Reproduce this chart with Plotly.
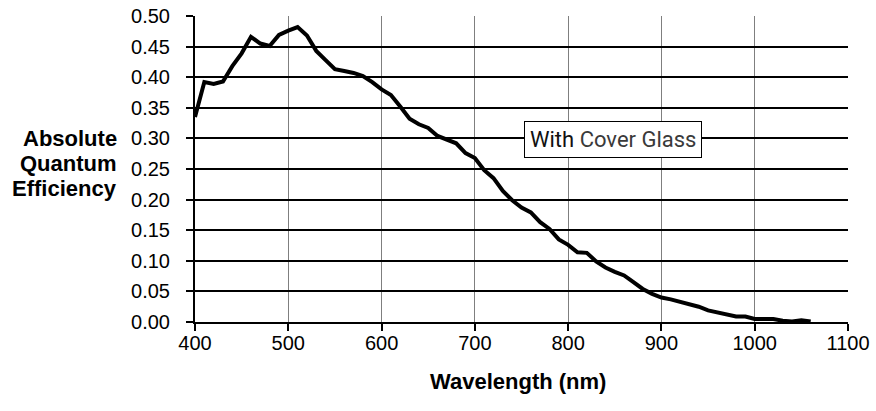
import plotly.graph_objects as go

wavelength_nm = [400, 410, 420, 430, 440, 450, 460, 470, 480, 490,
                 500, 510, 520, 530, 540, 550, 560, 570, 580, 590,
                 600, 610, 620, 630, 640, 650, 660, 670, 680, 690,
                 700, 710, 720, 730, 740, 750, 760, 770, 780, 790,
                 800, 810, 820, 830, 840, 850, 860, 870, 880, 890,
                 900, 910, 920, 930, 940, 950, 960, 970, 980, 990,
                 1000, 1010, 1020, 1030, 1040, 1050, 1060]
quantum_eff = [0.335, 0.392, 0.389, 0.393, 0.418, 0.439, 0.466, 0.455, 0.451, 0.469,
               0.476, 0.482, 0.468, 0.443, 0.428, 0.413, 0.410, 0.407, 0.402, 0.392,
               0.380, 0.371, 0.352, 0.332, 0.323, 0.317, 0.304, 0.298, 0.292, 0.276,
               0.268, 0.248, 0.235, 0.214, 0.199, 0.187, 0.179, 0.163, 0.152, 0.135,
               0.126, 0.114, 0.113, 0.099, 0.089, 0.082, 0.076, 0.065, 0.054, 0.046,
               0.040, 0.037, 0.033, 0.030, 0.025, 0.019, 0.016, 0.013, 0.009, 0.009,
               0.005, 0.005, 0.005, 0.002, 0.001, 0.003, 0.001]

x_ticks = [400, 500, 600, 700, 800, 900, 1000, 1100]
y_ticks = [0.00, 0.05, 0.10, 0.15, 0.20, 0.25, 0.30, 0.35, 0.40, 0.45, 0.50]
y_title_lines = ["Absolute", "Quantum", "Efficiency"]

font_family = "Liberation Sans, Arial, sans-serif"

fig = go.Figure()
fig.add_trace(go.Scatter(
    x=wavelength_nm, y=quantum_eff, mode="lines",
    line=dict(color="black", width=4),
    showlegend=False, hoverinfo="x+y",
))

annotations = []
# y-axis title, three tightly spaced right-aligned lines
for i, word in enumerate(y_title_lines):
    annotations.append(dict(
        xref="paper", yref="paper", x=-0.117, y=0.601 - i * 0.083,
        xanchor="right", yanchor="middle",
        text="<b>%s</b>" % word, showarrow=False,
        font=dict(size=22, color="black"),
    ))
annotations.append(dict(
    xref="paper", yref="paper", x=0.495, y=-0.196,
    xanchor="center", yanchor="middle",
    text="<b>Wavelength (nm)</b>", showarrow=False,
    font=dict(size=22, color="black"),
))
annotations.append(dict(
    xref="x", yref="y", x=848, y=0.298,
    xanchor="center", yanchor="middle",
    text="<span style='color:#111'>With</span> <span style='color:#3a3a3a'>Cover Glass</span>",
    showarrow=False,
    font=dict(family="Roboto, sans-serif", size=22),
    bgcolor="white", bordercolor="black", borderwidth=1, borderpad=5,
))

fig.update_layout(
    width=876, height=411, autosize=False,
    margin=dict(l=195, r=28, t=16, b=89, autoexpand=False),
    paper_bgcolor="white", plot_bgcolor="white",
    font=dict(family=font_family, size=20, color="black"),
    xaxis=dict(
        range=[400, 1100], tickvals=x_ticks, ticktext=[str(v) for v in x_ticks],
        showgrid=True, gridcolor="#7f7f7f", gridwidth=1,
        showline=True, linecolor="black", linewidth=2,
        ticks="outside", ticklen=7, tickwidth=2, tickcolor="black",
        zeroline=False, automargin=False, ticklabelstandoff=-5,
        ticklabeloverflow="allow",
    ),
    yaxis=dict(
        range=[0, 0.5], tickvals=y_ticks, tickformat=".2f",
        showgrid=True, gridcolor="black", gridwidth=2,
        showline=True, linecolor="black", linewidth=2,
        ticks="outside", ticklen=7, tickwidth=2, tickcolor="black",
        zeroline=False, automargin=False, ticklabelstandoff=12,
        ticklabeloverflow="allow",
    ),
    annotations=annotations,
)

fig.write_html(
    "out.html",
    config={"displayModeBar": False},
    post_script="document.body.style.margin='0';",
)
